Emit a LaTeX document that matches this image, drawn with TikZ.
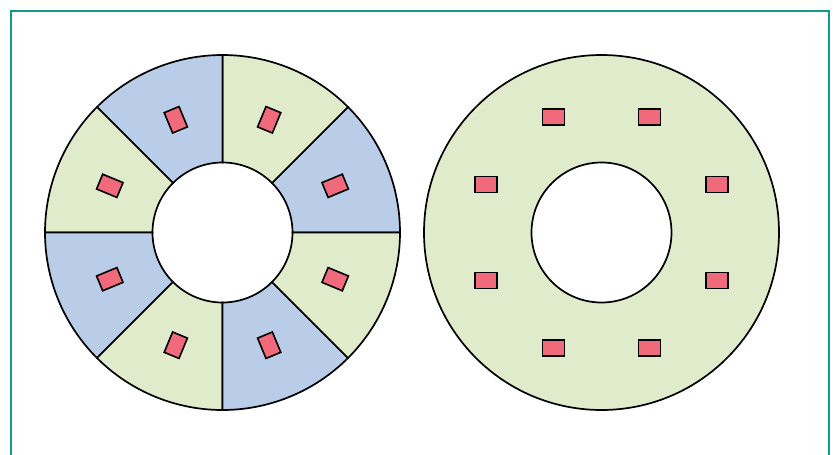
\documentclass[tikz,border=0pt]{standalone}
\definecolor{ringblue}{HTML}{B9CDE8}
\definecolor{ringgreen}{HTML}{DFEBCA}
\definecolor{boxred}{HTML}{F06A7C}
\definecolor{frameteal}{HTML}{16998A}
\tikzset{
  outline/.style={draw=black, line width=1.7pt},
  redbox/.style={draw=black, line width=1.6pt, fill=boxred, inner sep=0pt,
                 minimum width=22pt, minimum height=16pt, rectangle},
}
\begin{document}
\begin{tikzpicture}[x=1pt,y=1pt]
\useasboundingbox (0,0) rectangle (833,-455);
\draw[frameteal, line width=2pt] (11,-11) rectangle (829,-480);
% left segmented ring
\coordinate (cl) at (222.5,-232.5);
\foreach \k in {0,...,7} {
  \pgfmathsetmacro{\a}{45*\k}
  \pgfmathsetmacro{\b}{45*\k+45}
  \pgfmathsetmacro{\m}{45*\k+22.5}
  \pgfmathtruncatemacro{\ev}{mod(\k,2)}
  \ifnum\ev=0 \def\fc{ringblue}\else\def\fc{ringgreen}\fi
  \filldraw[outline, fill=\fc] ([shift={(cl)}]\a:177.5pt) arc[start angle=\a, end angle=\b, radius=177.5pt]
     -- ([shift={(cl)}]\b:70pt) arc[start angle=\b, end angle=\a, radius=70pt] -- cycle;
  \node[redbox, rotate=\m] (lr\k) at ([shift={(cl)}]\m:122pt) {};
}
% right plain ring
\coordinate (cr) at (601.5,-232.5);
\fill[ringgreen, even odd rule] (cr) circle[radius=177.5pt] (cr) circle[radius=70pt];
\draw[outline] (cr) circle[radius=177.5pt];
\draw[outline] (cr) circle[radius=70pt];
\foreach \k in {0,...,7} {
  \pgfmathsetmacro{\m}{45*\k+22.5}
  \node[redbox] (rr\k) at ([shift={(cr)}]\m:125pt) {};
}
\end{tikzpicture}
\end{document}
